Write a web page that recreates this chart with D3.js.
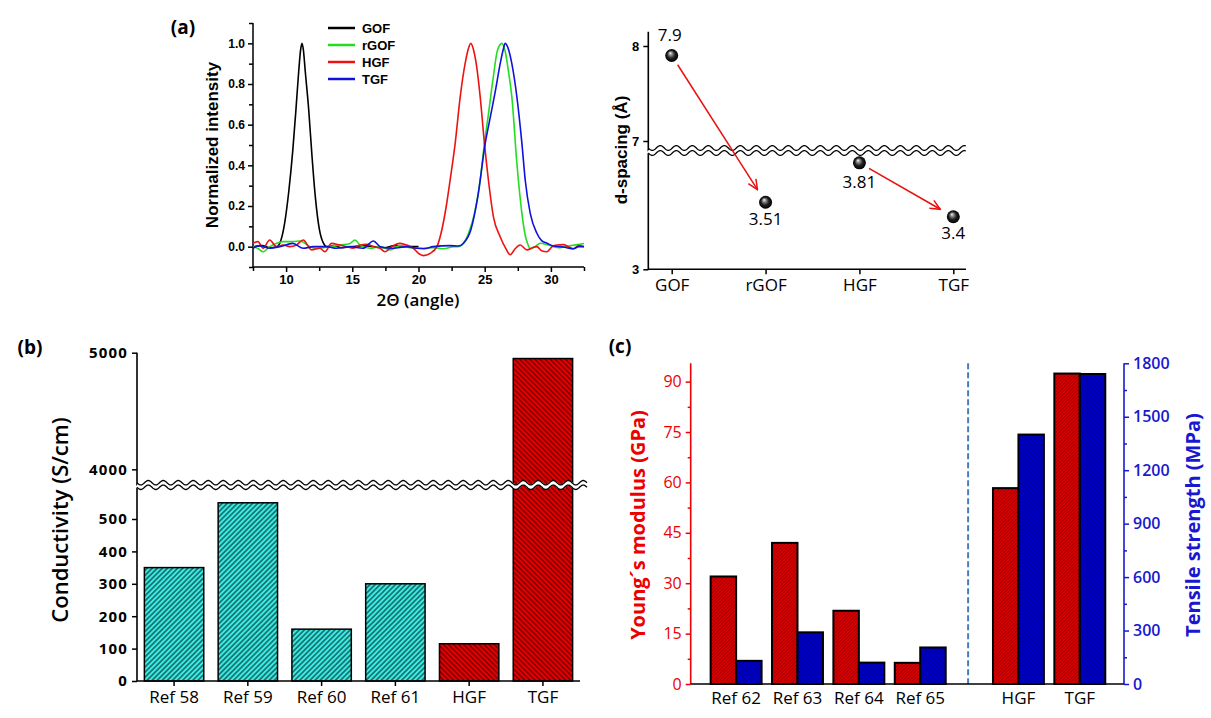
<!DOCTYPE html>
<html><head><meta charset="utf-8">
<script src="https://cdn.jsdelivr.net/npm/d3@7"></script>
<style>body{margin:0;background:#fff} svg{display:block}</style>
</head><body>
<svg id="fig" width="1211" height="718"></svg>
<script>
// ================= DATA =================
// (a) XRD patterns: [2theta, normalized intensity]
const xrdNames = ["GOF", "rGOF", "HGF", "TGF"];
const xrdGOF = [[7.5,0.0],[8.2,0.005],[8.8,-0.005],[9.3,0.0],[9.6,0.03],[9.9,0.12],[10.2,0.27],[10.5,0.47],[10.75,0.68],[10.95,0.86],[11.1,0.97],[11.2,1.0],[11.3,0.97],[11.45,0.86],[11.7,0.68],[11.95,0.45],[12.2,0.25],[12.5,0.09],[12.8,0.02],[13.1,0.0],[13.6,0.005],[14.2,-0.005],[15.0,0.0],[15.8,0.005],[16.6,0.0],[17.4,-0.005],[18.2,0.005],[19.0,0.0],[20.0,0.0]];
const xrdRGOF = [[7.5,0.0],[7.9,-0.01],[8.26,-0.025],[8.76,0.0],[9.27,0.016],[9.77,0.025],[10.53,0.025],[11.04,0.028],[11.8,0.0],[12.3,-0.008],[13.3,0.0],[14.06,0.008],[14.83,0.016],[15.2,0.033],[15.58,0.008],[16.34,-0.008],[17.1,0.0],[17.85,-0.016],[18.6,0.005],[19.37,-0.005],[20.13,-0.008],[21.14,-0.005],[21.9,-0.01],[22.65,0.0],[23.0,0.0],[23.27,0.008],[23.78,0.066],[24.23,0.164],[24.66,0.328],[24.98,0.508],[25.29,0.656],[25.62,0.82],[25.97,0.967],[26.3,1.0],[26.55,0.96],[26.8,0.86],[27.05,0.737],[27.43,0.41],[27.81,0.164],[28.05,0.06],[28.23,0.017],[28.44,-0.01],[28.8,0.0],[29.2,0.017],[29.7,0.01],[30.2,0.0],[30.6,-0.005],[31.0,0.0],[31.5,0.005],[32.0,0.01],[32.5,0.016]];
const xrdHGF = [[7.5,0.016],[7.88,0.025],[8.26,-0.008],[8.76,0.033],[9.27,0.0],[9.77,0.008],[10.28,0.0],[10.78,0.008],[11.29,0.033],[11.92,-0.016],[12.55,-0.008],[12.93,-0.025],[13.43,0.016],[14.06,0.008],[14.57,0.0],[15.07,-0.008],[15.58,0.008],[16.08,0.012],[16.59,0.0],[17.09,-0.008],[17.47,-0.025],[17.98,0.0],[18.61,0.016],[19.11,0.008],[19.62,-0.008],[20.0,-0.033],[20.38,-0.044],[20.88,-0.033],[21.39,0.0],[21.76,0.082],[22.1,0.2],[22.39,0.328],[22.77,0.508],[23.15,0.737],[23.52,0.9],[23.75,0.97],[23.95,1.0],[24.15,0.97],[24.36,0.9],[24.66,0.737],[24.98,0.508],[25.28,0.328],[25.66,0.147],[26.17,0.049],[26.6,-0.01],[26.93,-0.04],[27.3,-0.01],[27.68,0.008],[28.2,-0.016],[28.6,-0.005],[28.94,0.0],[29.3,-0.02],[29.7,-0.025],[30.1,0.0],[30.45,0.008],[30.95,0.01],[31.3,0.0],[31.7,-0.01],[32.1,0.005],[32.5,0.0]];
const xrdTGF = [[7.5,-0.008],[8.0,0.005],[8.76,-0.008],[9.52,0.0],[10.5,0.016],[11.3,-0.008],[12.05,0.0],[13.05,0.0],[13.8,-0.008],[14.83,0.0],[15.8,-0.008],[16.6,0.028],[17.1,0.0],[18.1,-0.008],[19.1,0.0],[19.87,-0.008],[20.4,-0.01],[21.1,0.0],[22.4,0.005],[23.0,0.003],[23.4,0.017],[23.95,0.082],[24.48,0.246],[25.04,0.508],[25.4,0.63],[25.79,0.76],[26.17,0.9],[26.4,0.97],[26.55,1.0],[26.8,0.97],[27.05,0.9],[27.43,0.737],[27.81,0.508],[28.06,0.328],[28.44,0.164],[28.94,0.066],[29.3,0.03],[29.7,0.017],[30.2,0.003],[30.7,0.0],[31.2,-0.005],[31.7,-0.01],[32.1,0.0],[32.5,0.0]];
const xrdColors = ["#000000", "#22dd22", "#ee1111", "#1111dd"];
const xrdXTicks = [10, 15, 20, 25, 30];
const xrdYTicks = [0, 0.2, 0.4, 0.6, 0.8, 1.0];

// (a) right: d-spacing
const dCategories = ["GOF", "rGOF", "HGF", "TGF"];
const dValues = [7.9, 3.51, 3.81, 3.4];
const dLabels = ["7.9", "3.51", "3.81", "3.4"];
const dTicksHigh = [7, 8];
const dTicksLow = [3];

// (b) conductivity
const condCategories = ["Ref 58", "Ref 59", "Ref 60", "Ref 61", "HGF", "TGF"];
const condValues = [350, 550, 160, 300, 115, 4950];
const condGroup = ["ref", "ref", "ref", "ref", "ours", "ours"];
const condTicksLow = [0, 100, 200, 300, 400, 500];
const condTicksHigh = [4000, 5000];

// (c) mechanical
const mechCategories = ["Ref 62", "Ref 63", "Ref 64", "Ref 65", "HGF", "TGF"];
const youngValues = [32, 42, 21.8, 6.3, 58.3, 92.4];
const tensileValues = [130, 290, 120, 205, 1400, 1740];
const youngTicks = [0, 15, 30, 45, 60, 75, 90];
const tensileTicks = [0, 300, 600, 900, 1200, 1500, 1800];

// ================= DRAWING =================
const svg = d3.select("#fig");
svg.append("rect").attr("width", 1211).attr("height", 718).attr("fill", "#fff");
const defs = svg.append("defs");
const SANS = "'Open Sans', 'Noto Sans', sans-serif";
const ARIAL = "'Liberation Sans', Arial, sans-serif";
const fmtInt = d3.format("d");

function hatch(id, bg, fg, size, angle, sw) {
  const p = defs.append("pattern").attr("id", id).attr("patternUnits", "userSpaceOnUse")
    .attr("width", size).attr("height", size).attr("patternTransform", `rotate(${angle})`);
  p.append("rect").attr("width", size).attr("height", size).attr("fill", bg);
  p.append("line").attr("x1", size / 2).attr("y1", -1).attr("x2", size / 2).attr("y2", size + 1)
    .attr("stroke", fg).attr("stroke-width", sw);
}
hatch("hCyan", "#38eee6", "#0a2a2a", 3.6, 45, 1.1);
hatch("hRedB", "#e80000", "#500000", 3.6, -45, 1.1);
hatch("hRedC", "#d80000", "#a00000", 2.4, 45, 0.8);
hatch("hBlueC", "#0000cc", "#00008e", 2.4, -45, 0.8);

const rg = defs.append("radialGradient").attr("id", "ball")
  .attr("cx", "0.5").attr("cy", "0.5").attr("r", "0.5").attr("fx", "0.38").attr("fy", "0.3");
rg.append("stop").attr("offset", "0%").attr("stop-color", "#ffffff");
rg.append("stop").attr("offset", "22%").attr("stop-color", "#9a9a9a");
rg.append("stop").attr("offset", "60%").attr("stop-color", "#202020");
rg.append("stop").attr("offset", "100%").attr("stop-color", "#000");

defs.append("marker").attr("id", "arr").attr("viewBox", "0 0 12 12").attr("refX", 11).attr("refY", 6)
  .attr("markerWidth", 12).attr("markerHeight", 12).attr("markerUnits", "userSpaceOnUse").attr("orient", "auto")
  .append("path").attr("d", "M1,1.5 L11,6 L1,10.5").attr("fill", "none").attr("stroke", "#e81010").attr("stroke-width", 1.5);

function styleAxis(g, color, font, size, weight) {
  g.selectAll(".domain").remove();
  g.selectAll(".tick line").attr("stroke", color).attr("stroke-width", 1.5);
  g.selectAll(".tick text").attr("fill", color).style("font-family", font)
    .style("font-size", size + "px").style("font-weight", weight);
}
function wavePath(x0, x1, y, period, amp) {
  const pts = [];
  for (let x = x0; x <= x1; x += 0.5) pts.push([x, y + amp * Math.sin((x - x0) / period * 2 * Math.PI)]);
  return d3.line()(pts);
}
function drawBreak(g, x0, x1, y, gap, period, amp) {
  g.append("path").attr("d", wavePath(x0, x1, y, period, amp)).attr("fill", "none")
    .attr("stroke", "#fff").attr("stroke-width", gap);
  [-gap / 2, gap / 2].forEach(o => g.append("path").attr("d", wavePath(x0, x1, y + o, period, amp))
    .attr("fill", "none").attr("stroke", "#000").attr("stroke-width", 1.3));
}

// ---------- (a) left: XRD ----------
{
  const g = svg.append("g");
  const x = d3.scaleLinear([7.5, 32.5], [253, 584]);
  const y = d3.scaleLinear([-0.1, 1.1], [267, 23]);
  const minorX = d3.range(7.5, 32.6, 2.5).filter(v => !xrdXTicks.includes(v));
  const minorY = [-0.1, 0.1, 0.3, 0.5, 0.7, 0.9, 1.1];
  g.append("g").attr("transform", "translate(0,267)")
    .call(d3.axisBottom(x).tickValues(xrdXTicks).tickSize(5).tickPadding(3).tickFormat(fmtInt))
    .call(a => styleAxis(a, "#000", ARIAL, 13, "bold"));
  g.append("g").attr("transform", "translate(0,267)")
    .call(d3.axisBottom(x).tickValues(minorX).tickSize(4).tickFormat(""))
    .call(a => styleAxis(a, "#000", ARIAL, 12, "bold"));
  g.append("g").attr("transform", "translate(253,0)")
    .call(d3.axisLeft(y).tickValues(xrdYTicks).tickSize(5).tickPadding(3).tickFormat(d3.format(".1f")))
    .call(a => styleAxis(a, "#000", ARIAL, 12, "bold"));
  g.append("g").attr("transform", "translate(253,0)")
    .call(d3.axisLeft(y).tickValues(minorY).tickSize(4).tickFormat(""))
    .call(a => styleAxis(a, "#000", ARIAL, 12, "bold"));
  g.append("path").attr("d", `M253,${y(1.1)}V267H${x(32.5)}`).attr("fill", "none").attr("stroke", "#000").attr("stroke-width", 1.5);

  const series = [xrdGOF, xrdRGOF, xrdHGF, xrdTGF];
  const line = d3.line().x(d => x(d[0])).y(d => y(d[1])).curve(d3.curveMonotoneX);
  series.forEach((s, i) => g.append("path").attr("d", line(s)).attr("fill", "none")
    .attr("stroke", xrdColors[i]).attr("stroke-width", 1.6));

  // legend
  const lg = g.append("g");
  xrdNames.forEach((n, i) => {
    const yy = 28 + i * 17;
    lg.append("line").attr("x1", 328).attr("x2", 355).attr("y1", yy).attr("y2", yy)
      .attr("stroke", xrdColors[i]).attr("stroke-width", 2.5);
    lg.append("text").attr("x", 362).attr("y", yy).attr("dy", "0.35em").text(n)
      .style("font-family", ARIAL).style("font-size", "13px").style("font-weight", "bold");
  });
  g.append("text").attr("transform", "translate(212,145) rotate(-90)").attr("text-anchor", "middle")
    .attr("dy", "0.35em").text("Normalized intensity")
    .style("font-family", ARIAL).style("font-size", "17px").style("font-weight", "bold");
  g.append("text").attr("x", 418).attr("y", 300).attr("text-anchor", "middle").attr("dy", "0.35em")
    .text("2Θ (angle)").style("font-family", SANS).style("font-size", "17px").style("font-weight", "600");
  g.append("text").attr("x", 183).attr("y", 27).attr("text-anchor", "middle").attr("dy", "0.35em")
    .text("(a)").style("font-family", SANS).style("font-size", "19px").style("font-weight", "bold");
}

// ---------- (a) right: d-spacing ----------
{
  const g = svg.append("g");
  const x = d3.scalePoint(dCategories, [671.7, 953.3]);
  const yLow = d3.scaleLinear([3, 3.9], [269.3, 151]);
  const yHigh = d3.scaleLinear([6.9, 8.15], [150.5, 31.75]);
  const y = v => v > 5 ? yHigh(v) : yLow(v);
  g.append("g").attr("transform", "translate(648.3,0)")
    .call(d3.axisLeft(yHigh).tickValues(dTicksHigh).tickSize(5).tickPadding(4).tickFormat(fmtInt))
    .call(a => styleAxis(a, "#000", ARIAL, 13, "bold"));
  g.append("g").attr("transform", "translate(648.3,0)")
    .call(d3.axisLeft(yLow).tickValues(dTicksLow).tickSize(5).tickPadding(4).tickFormat(fmtInt))
    .call(a => styleAxis(a, "#000", ARIAL, 13, "bold"));
  g.append("g").attr("transform", "translate(0,269.3)")
    .call(d3.axisBottom(x).tickSize(5).tickPadding(5))
    .call(a => styleAxis(a, "#000", SANS, 17, "normal"));
  g.append("path").attr("d", `M648.3,${yHigh(8.15)}V269.3H966`).attr("fill", "none").attr("stroke", "#000").attr("stroke-width", 1.6);
  drawBreak(g, 648.3, 966, 150.5, 5, 16, 2.4);

  // arrows
  const pts = dCategories.map((c, i) => [x(c), y(dValues[i])]);
  [[0, 1], [2, 3]].forEach(([a, b]) => {
    const [x0, y0] = pts[a], [x1, y1] = pts[b];
    const L = Math.hypot(x1 - x0, y1 - y0), ux = (x1 - x0) / L, uy = (y1 - y0) / L;
    g.append("line").attr("x1", x0 + ux * 11).attr("y1", y0 + uy * 11)
      .attr("x2", x1 - ux * 15).attr("y2", y1 - uy * 15)
      .attr("stroke", "#e81010").attr("stroke-width", 1.5).attr("marker-end", "url(#arr)");
  });
  g.selectAll("circle.ball").data(dValues).join("circle").attr("class", "ball")
    .attr("cx", (d, i) => x(dCategories[i])).attr("cy", d => y(d)).attr("r", 6.5).attr("fill", "url(#ball)");
  const labOff = [-20, 17, 19, 16];
  g.selectAll("text.val").data(dLabels).join("text").attr("class", "val")
    .attr("x", (d, i) => x(dCategories[i]) + (i === 0 ? -2 : 0))
    .attr("y", (d, i) => y(dValues[i]) + labOff[i]).attr("text-anchor", "middle").attr("dy", "0.35em")
    .text(d => d).style("font-family", SANS).style("font-size", "17px");
  g.append("text").attr("transform", "translate(621,150) rotate(-90)").attr("text-anchor", "middle")
    .attr("dy", "0.35em").text("d-spacing (Å)")
    .style("font-family", ARIAL).style("font-size", "17px").style("font-weight", "bold");
}

// ---------- (b) conductivity ----------
{
  const g = svg.append("g");
  const x = d3.scaleBand(condCategories, [137, 580]).paddingInner(0.195).paddingOuter(0.1);
  const yLow = d3.scaleLinear([0, 600], [681, 486.6]);
  const yHigh = d3.scaleLinear([3900, 5000], [481, 352.7]);
  const y = v => v > 600 ? yHigh(v) : yLow(v);
  g.selectAll("rect.bar").data(condValues).join("rect").attr("class", "bar")
    .attr("x", (d, i) => x(condCategories[i])).attr("width", x.bandwidth())
    .attr("y", d => y(d)).attr("height", d => 681 - y(d))
    .attr("fill", (d, i) => condGroup[i] === "ref" ? "url(#hCyan)" : "url(#hRedB)")
    .attr("stroke", "#000").attr("stroke-width", 1.5);
  g.append("g").attr("transform", "translate(137,0)")
    .call(d3.axisLeft(yLow).tickValues(condTicksLow).tickSize(5).tickPadding(4).tickFormat(fmtInt))
    .call(a => styleAxis(a, "#000", SANS, 15, "bold"));
  g.append("g").attr("transform", "translate(137,0)")
    .call(d3.axisLeft(yHigh).tickValues(condTicksHigh).tickSize(5).tickPadding(4).tickFormat(fmtInt))
    .call(a => styleAxis(a, "#000", SANS, 15, "bold"));
  g.selectAll(".tick text").style("letter-spacing", "1.2px");
  g.append("g").attr("transform", "translate(0,681)")
    .call(d3.axisBottom(x).tickSize(5).tickPadding(5))
    .call(a => styleAxis(a, "#000", SANS, 17, "normal"));
  g.append("path").attr("d", `M137,${yHigh(5000)}V681H580`).attr("fill", "none").attr("stroke", "#000").attr("stroke-width", 1.6);
  drawBreak(g, 137, 587, 485, 4.6, 15, 2.2);
  g.append("text").attr("transform", "translate(60,520) rotate(-90)").attr("text-anchor", "middle")
    .attr("dy", "0.35em").text("Conductivity (S/cm)")
    .style("font-family", SANS).style("font-size", "22px").style("font-weight", "600");
  g.append("text").attr("x", 30).attr("y", 347).attr("text-anchor", "middle").attr("dy", "0.35em")
    .text("(b)").style("font-family", SANS).style("font-size", "19px").style("font-weight", "bold");
}

// ---------- (c) mechanical ----------
{
  const g = svg.append("g");
  const pos = mechCategories.map((c, i) => i < 4 ? i + 1 : i + 1.6);
  const x = d3.scaleLinear([0.26, 7.32], [690.7, 1124]);
  const yL = d3.scaleLinear([0, 95.45], [684, 363.3]);
  const yR = d3.scaleLinear([0, 1800], [684, 363.3]);
  const bw = x(1.415) - x(1);
  g.append("line").attr("x1", x(4.78)).attr("x2", x(4.78)).attr("y1", 363.3).attr("y2", 684)
    .attr("stroke", "#4a7dbd").attr("stroke-width", 2).attr("stroke-dasharray", "6,3");
  g.selectAll("rect.ym").data(youngValues).join("rect").attr("class", "ym")
    .attr("x", (d, i) => x(pos[i]) - bw).attr("width", bw)
    .attr("y", d => yL(d)).attr("height", d => 684 - yL(d))
    .attr("fill", "url(#hRedC)").attr("stroke", "#000").attr("stroke-width", 2);
  g.selectAll("rect.ts").data(tensileValues).join("rect").attr("class", "ts")
    .attr("x", (d, i) => x(pos[i])).attr("width", bw)
    .attr("y", d => yR(d)).attr("height", d => 684 - yR(d))
    .attr("fill", "url(#hBlueC)").attr("stroke", "#000").attr("stroke-width", 2);
  // left axis
  g.append("g").attr("transform", "translate(690.7,0)")
    .call(d3.axisLeft(yL).tickValues(youngTicks).tickSize(5).tickPadding(4).tickFormat(fmtInt))
    .call(a => styleAxis(a, "#ee0000", SANS, 16, "normal"));
  g.append("g").attr("transform", "translate(690.7,0)")
    .call(d3.axisLeft(yL).tickValues(d3.range(7.5, 95, 15)).tickSize(3).tickFormat(""))
    .call(a => styleAxis(a, "#ee0000", SANS, 16, "normal"));
  g.append("line").attr("x1", 690.7).attr("x2", 690.7).attr("y1", 363.3).attr("y2", 684).attr("stroke", "#ee0000").attr("stroke-width", 1.6);
  // right axis
  g.append("g").attr("transform", "translate(1124,0)")
    .call(d3.axisRight(yR).tickValues(tensileTicks).tickSize(5).tickPadding(4).tickFormat(fmtInt))
    .call(a => styleAxis(a, "#1818d0", SANS, 16, "600"));
  g.append("g").attr("transform", "translate(1124,0)")
    .call(d3.axisRight(yR).tickValues(d3.range(150, 1800, 300)).tickSize(3).tickFormat(""))
    .call(a => styleAxis(a, "#1818d0", SANS, 16, "600"));
  g.append("line").attr("x1", 1124).attr("x2", 1124).attr("y1", 363.3).attr("y2", 684).attr("stroke", "#1818d0").attr("stroke-width", 1.6);
  // x axis
  g.append("line").attr("x1", 690.7).attr("x2", 1124).attr("y1", 684).attr("y2", 684).attr("stroke", "#000").attr("stroke-width", 1.6);
  g.selectAll("text.cat").data(mechCategories).join("text").attr("class", "cat")
    .attr("x", (d, i) => x(pos[i])).attr("y", 698).attr("dy", "0.35em").attr("text-anchor", "middle")
    .text(d => d).style("font-family", SANS).style("font-size", "17px");
  g.append("text").attr("transform", "translate(638,525) rotate(-90)").attr("text-anchor", "middle")
    .attr("dy", "0.35em").text("Young´s modulus (GPa)").attr("fill", "#ee0000")
    .style("font-family", SANS).style("font-size", "20px").style("font-weight", "bold");
  g.append("text").attr("transform", "translate(1193,525) rotate(-90)").attr("text-anchor", "middle")
    .attr("dy", "0.35em").text("Tensile strength (MPa)").attr("fill", "#1818d0")
    .style("font-family", SANS).style("font-size", "20px").style("font-weight", "bold");
  g.append("text").attr("x", 620).attr("y", 346).attr("text-anchor", "middle").attr("dy", "0.35em")
    .text("(c)").style("font-family", SANS).style("font-size", "19px").style("font-weight", "bold");
}
</script>
</body></html>
